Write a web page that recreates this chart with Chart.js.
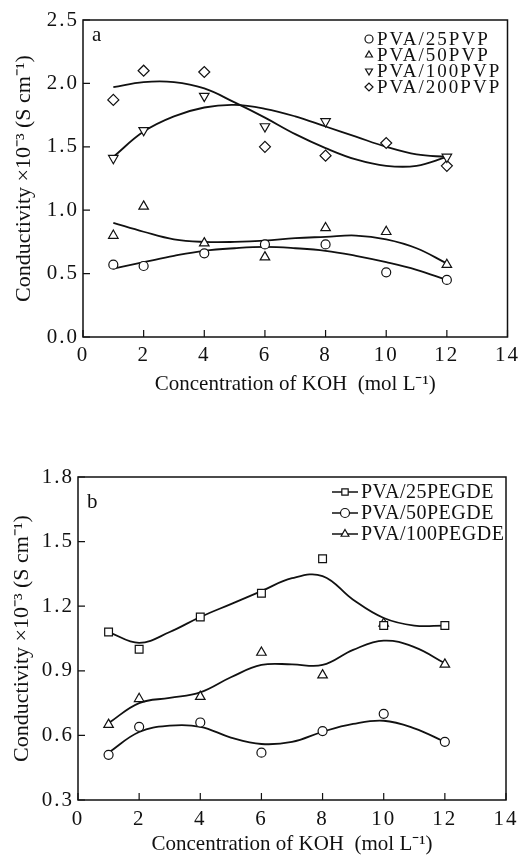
<!DOCTYPE html>
<html>
<head>
<meta charset="utf-8">
<script src="https://cdn.jsdelivr.net/npm/chart.js@4.4.1/dist/chart.umd.min.js"></script>
<style>
    html, body { margin: 0; padding: 0; background: #fff; }
    #wrap-a { position: absolute; left: 0; top: 0; width: 524px; height: 410px; }
    #wrap-b { position: absolute; left: 0; top: 420px; width: 524px; height: 437px; }
</style>
</head>
<body>
<div id="wrap-a"><canvas id="chart-a"></canvas></div>
<div id="wrap-b"><canvas id="chart-b"></canvas></div>
<script>
// measured points (x = KOH concentration)
const kohX = [1, 2, 4, 6, 8, 10, 12];
const xTicks = [0, 2, 4, 6, 8, 10, 12, 14];

// panel a
const pvp25 = [0.57, 0.56, 0.66, 0.73, 0.73, 0.51, 0.45];
const pvp50 = [0.80, 1.03, 0.74, 0.63, 0.86, 0.83, 0.57];
const pvp100 = [1.41, 1.63, 1.90, 1.66, 1.70, null, 1.42];
const pvp200 = [1.87, 2.10, 2.09, 1.50, 1.43, 1.53, 1.35];
const yTicksA = [0.0, 0.5, 1.0, 1.5, 2.0, 2.5];

// fitted curves of panel a
const fitX = [1, 2, 3, 4, 5, 6, 7, 8, 9, 10, 11, 12];
const pvp25Fit = [0.54, 0.59, 0.64, 0.68, 0.70, 0.71, 0.70, 0.68, 0.64, 0.59, 0.53, 0.45];
const pvp50Fit = [0.90, 0.83, 0.77, 0.75, 0.75, 0.76, 0.78, 0.79, 0.80, 0.77, 0.70, 0.58];
const pvp100Fit = [1.42, 1.62, 1.74, 1.81, 1.83, 1.80, 1.74, 1.66, 1.58, 1.50, 1.44, 1.42];
const pvp200Fit = [1.97, 2.01, 2.01, 1.96, 1.85, 1.73, 1.60, 1.49, 1.40, 1.35, 1.35, 1.42];

// panel b
const pegde25 = [1.08, 1.00, 1.15, 1.26, 1.42, 1.11, 1.11];
const pegde50 = [0.51, 0.64, 0.66, 0.52, 0.62, 0.70, 0.57];
const pegde100 = [0.65, 0.77, 0.78, 0.985, 0.88, 1.12, 0.93];
const yTicksB = [0.3, 0.6, 0.9, 1.2, 1.5, 1.8];

const pegde25Fit = [1.08, 1.03, 1.08, 1.15, 1.21, 1.27, 1.33, 1.34, 1.23, 1.145, 1.11, 1.11];
const pegde50Fit = [0.52, 0.616, 0.645, 0.64, 0.59, 0.56, 0.57, 0.617, 0.653, 0.668, 0.633, 0.57];
const pegde100Fit = [0.657, 0.75, 0.774, 0.80, 0.87, 0.927, 0.93, 0.927, 0.997, 1.04, 1.01, 0.935];

const FONT = '"Liberation Serif", "Times New Roman", serif';
const INK = '#111';

function pairs(xs, ys) {
    return xs.map((x, i) => ({ x: x, y: ys[i] }));
}

function pointSet(label, ys, style, rotation, radius) {
    return {
        type: 'scatter',
        label: label,
        data: pairs(kohX, ys),
        pointStyle: style,
        rotation: rotation,
        pointRadius: radius,
        pointBackgroundColor: '#fff',
        pointBorderColor: INK,
        pointBorderWidth: 1.2,
        showLine: false,
        order: 0
    };
}

function fitSet(ys) {
    return {
        type: 'line',
        data: pairs(fitX, ys),
        borderColor: INK,
        borderWidth: 1.8,
        pointRadius: 0,
        tension: 0.4,
        fill: false,
        order: 1
    };
}

// frame, inward ticks, panel letter and legend
const framePlugin = {
    id: 'frame',
    afterDatasetsDraw(chart, args, opts) {
        // tick labels are drawn after this (ticks.z = 1), a bit wider like the original
        chart.ctx.letterSpacing = opts.tickSpacing;
    },
    afterDraw(chart, args, opts) {
        const { ctx, chartArea: a, scales } = chart;
        ctx.letterSpacing = '0px';
        ctx.save();
        ctx.strokeStyle = INK;
        ctx.lineWidth = 1.5;
        ctx.strokeRect(a.left, a.top, a.width, a.height);

        ctx.beginPath();
        scales.x.ticks.forEach(t => {
            const px = scales.x.getPixelForValue(t.value);
            ctx.moveTo(px, a.bottom);
            ctx.lineTo(px, a.bottom - 7);
        });
        scales.y.ticks.forEach(t => {
            const py = scales.y.getPixelForValue(t.value);
            ctx.moveTo(a.left, py);
            ctx.lineTo(a.left + 7, py);
        });
        ctx.lineWidth = 1.2;
        ctx.stroke();

        ctx.fillStyle = INK;
        ctx.font = '21px ' + FONT;
        ctx.textBaseline = 'middle';
        ctx.textAlign = 'left';
        ctx.fillText(opts.letter, opts.letterX, opts.letterY);

        // legend
        ctx.font = opts.legendFont + 'px ' + FONT;
        const items = chart.data.datasets.filter(d => d.label);
        items.forEach((d, i) => {
            const y = opts.legendY + i * opts.legendStep;
            if (opts.lineHalf) {
                ctx.beginPath();
                ctx.moveTo(opts.markerX - opts.lineHalf, y);
                ctx.lineTo(opts.markerX + opts.lineHalf, y);
                ctx.lineWidth = 1.5;
                ctx.strokeStyle = INK;
                ctx.stroke();
            }
            ctx.fillStyle = '#fff';
            ctx.strokeStyle = INK;
            ctx.lineWidth = 1.2;
            Chart.helpers.drawPoint(ctx, {
                pointStyle: d.pointStyle,
                rotation: d.rotation,
                radius: opts.markerRadius,
                borderWidth: 1.2
            }, opts.markerX, y);
            ctx.fillStyle = INK;
            ctx.letterSpacing = opts.legendSpacing;
            ctx.fillText(d.label, opts.textX, y + 1);
            ctx.letterSpacing = '0px';
        });
        ctx.restore();
    }
};

function axes(yTicks, yWidth, xHeight, yTitlePad, xTitlePad, xTickPad) {
    return {
        x: {
            type: 'linear',
            min: 0,
            max: 14,
            afterBuildTicks: s => { s.ticks = xTicks.map(v => ({ value: v })); },
            afterFit: s => { s.height = xHeight; },
            grid: { display: false, drawTicks: false },
            border: { display: false },
            ticks: { z: 1, color: INK, padding: xTickPad, font: { family: FONT, size: 21 } },
            title: {
                display: true,
                text: 'Concentration of KOH  (mol L\u207B\u00B9)',
                color: INK,
                padding: { top: 0, bottom: xTitlePad },
                font: { family: FONT, size: 21 }
            }
        },
        y: {
            type: 'linear',
            min: yTicks[0],
            max: yTicks[yTicks.length - 1],
            afterBuildTicks: s => { s.ticks = yTicks.map(v => ({ value: v })); },
            afterFit: s => { s.width = yWidth; },
            grid: { display: false, drawTicks: false },
            border: { display: false },
            ticks: {
                z: 1,
                color: INK,
                padding: 4,
                font: { family: FONT, size: 21 },
                callback: v => Number(v).toFixed(1)
            },
            title: {
                display: true,
                text: 'Conductivity \u00D710\u207B\u00B3 (S cm\u207B\u00B9)',
                color: INK,
                padding: { top: yTitlePad, bottom: 0 },
                font: { family: FONT, size: 22 }
            }
        }
    };
}

new Chart(document.getElementById('chart-a'), {
    data: {
        datasets: [
            pointSet('PVA/25PVP', pvp25, 'circle', 0, 4.5),
            pointSet('PVA/50PVP', pvp50, 'triangle', 0, 5.5),
            pointSet('PVA/100PVP', pvp100, 'triangle', 180, 5.5),
            pointSet('PVA/200PVP', pvp200, 'rectRot', 0, 5.5),
            fitSet(pvp25Fit),
            fitSet(pvp50Fit),
            fitSet(pvp100Fit),
            fitSet(pvp200Fit)
        ]
    },
    options: {
        responsive: true,
        maintainAspectRatio: false,
        animation: false,
        layout: { padding: { left: 0, top: 20, right: 14, bottom: 0 } },
        scales: axes(yTicksA, 83, 73, 11, 13, 6),
        plugins: {
            legend: { display: false },
            tooltip: { enabled: false },
            frame: {
                letter: 'a', letterX: 92, letterY: 35, tickSpacing: '2px',
                legendFont: 19, legendY: 39, legendStep: 16, legendSpacing: '2px',
                markerX: 369, textX: 377, markerRadius: 4, lineHalf: 0
            }
        }
    },
    plugins: [framePlugin]
});

new Chart(document.getElementById('chart-b'), {
    data: {
        datasets: [
            pointSet('PVA/25PEGDE', pegde25, 'rect', 0, 5.5),
            pointSet('PVA/50PEGDE', pegde50, 'circle', 0, 4.5),
            pointSet('PVA/100PEGDE', pegde100, 'triangle', 0, 5.5),
            fitSet(pegde25Fit),
            fitSet(pegde50Fit),
            fitSet(pegde100Fit)
        ]
    },
    options: {
        responsive: true,
        maintainAspectRatio: false,
        animation: false,
        layout: { padding: { left: 0, top: 57, right: 18, bottom: 0 } },
        scales: axes(yTicksB, 78, 57, 9, 0, 7),
        plugins: {
            legend: { display: false },
            tooltip: { enabled: false },
            frame: {
                letter: 'b', letterX: 87, letterY: 82, tickSpacing: '2px',
                legendFont: 20, legendY: 72, legendStep: 21, legendSpacing: '0.5px',
                markerX: 345, textX: 361, markerRadius: 4.5, lineHalf: 13
            }
        }
    },
    plugins: [framePlugin]
});
</script>
</body>
</html>
